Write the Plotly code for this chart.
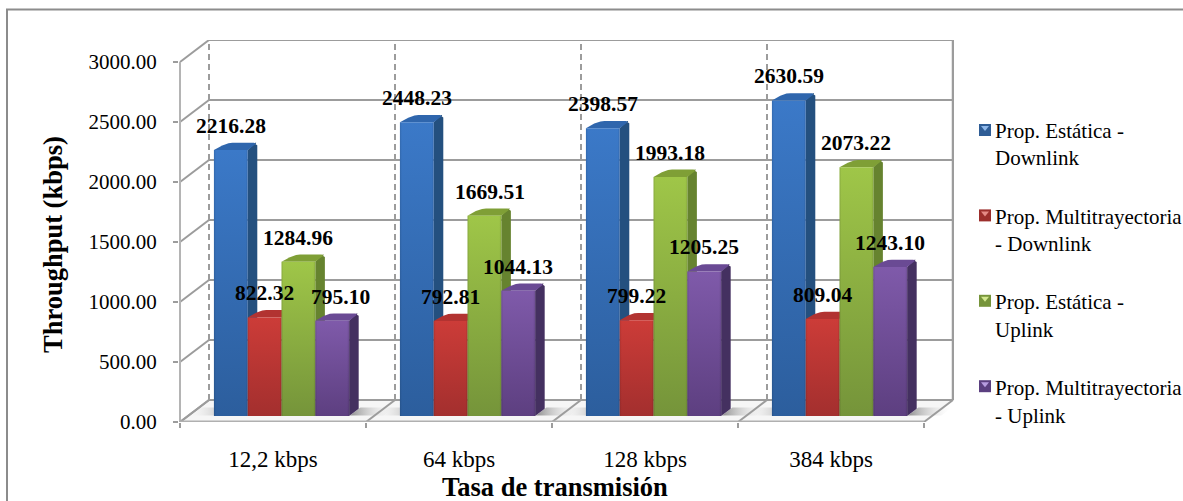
import plotly.graph_objects as go

# Throughput measurements (kbps) per transmission rate
rates = ["12,2 kbps", "64 kbps", "128 kbps", "384 kbps"]
static_down = [2216.28, 2448.23, 2398.57, 2630.59]
multipath_down = [822.32, 792.81, 799.22, 809.04]
static_up = [1284.96, 1669.51, 1993.18, 2073.22]
multipath_up = [795.10, 1044.13, 1205.25, 1243.10]
series_names = [
    " <br>Prop. Estática -<br>Downlink",
    " <br>Prop. Multitrayectoria<br>- Downlink",
    " <br>Prop. Estática -<br>Uplink",
    " <br>Prop. Multitrayectoria<br>- Uplink",
]
y_ticks = [0, 500, 1000, 1500, 2000, 2500, 3000]
label_nudge_px = [[0, 0, 0, 8], [0, 0, 6, 0], [0, 0, 0, 0], [0, 0, 0, 0]]

series_values = [static_down, multipath_down, static_up, multipath_up]

# Face colours: front bottom, front top, side, top
palette = [
    ("#2c5e9d", "#3b79c8", "#24507f", "#2f66ad"),
    ("#a32f2e", "#cc3c38", "#7c2524", "#b23331"),
    ("#75943a", "#9fc648", "#66832f", "#7f9f36"),
    ("#5d3f80", "#7f5aaa", "#443060", "#6a4a94"),
]
# Legend key colours: body and the lighter notch at its top
key_colors = [
    ("#2f5d96", "#8fb8ea"),
    ("#9c2e2c", "#e58a86"),
    ("#76943a", "#d3e88f"),
    ("#5b3f80", "#b79de0"),
]

# Page geometry in pixels
W, H = 1183, 501
LEFT, RIGHT, TOP, BOTTOM = 179, 954, 40, 422
PX_PER_GROUP = 186.0
PX_PER_UNIT = 0.12
DX = 29 / PX_PER_GROUP    # depth of the chart box along x, in category units
DY = 22 / PX_PER_UNIT     # depth of the chart box along y, in value units
X_RANGE = [-1 / PX_PER_GROUP, (RIGHT - 180) / PX_PER_GROUP]
Y_RANGE = [0, (BOTTOM - TOP) / PX_PER_UNIT]

BAR_OFFSET = 0.1403
BAR_WIDTH = 0.1817
BAR_D0, BAR_D1 = 0.27, 0.60
GRID = "#9c9c9c"


def project(x, v, d=0.0):
    """Oblique projection of (category position, value, depth) on the plot plane."""
    return x + d * DX, v + d * DY


def polygon(points):
    xs, ys = zip(*[project(*p) for p in points])
    return list(xs) + [xs[0]], list(ys) + [ys[0]]


def paper_x(px):
    return (px - LEFT) / (RIGHT - LEFT)


def paper_y(py):
    return (BOTTOM - py) / (BOTTOM - TOP)


fig = go.Figure()


def add_face(points, color=None, gradient=None):
    xs, ys = polygon(points)
    kw = {"fillgradient": gradient} if gradient else {"fillcolor": color}
    fig.add_trace(go.Scatter(x=xs, y=ys, mode="lines", fill="toself", line=dict(width=0),
                             showlegend=False, hoverinfo="skip", cliponaxis=False, **kw))


def add_line(points, width=2, dash="solid", color=GRID):
    xs, ys = zip(*[project(*p) for p in points])
    fig.add_trace(go.Scatter(x=xs, y=ys, mode="lines", line=dict(width=width, dash=dash, color=color),
                             showlegend=False, hoverinfo="skip", cliponaxis=False))


n_groups = len(rates)

# Floor
add_face([(0, 0, 0), (n_groups, 0, 0), (n_groups, 0, 1), (0, 0, 1)], color="#f6f6f6")

# Soft shadow the bar groups cast on the floor
for g in range(n_groups):
    span_end = g + BAR_OFFSET + 4 * BAR_WIDTH
    add_face(
        [(span_end, 0, 0.3), (span_end + 0.18, 0, 0.3), (span_end + 0.18, 0, 0.66), (span_end, 0, 0.66)],
        gradient=dict(type="horizontal", colorscale=[[0, "#8e8e8e"], [1, "rgba(246,246,246,0)"]]),
    )
    add_face(
        [(g + BAR_OFFSET - 0.14, 0, 0.3), (g + BAR_OFFSET, 0, 0.3), (g + BAR_OFFSET, 0, 0.66), (g + BAR_OFFSET - 0.14, 0, 0.66)],
        gradient=dict(type="horizontal", colorscale=[[0, "rgba(246,246,246,0)"], [1, "#b8b8b8"]]),
    )

# Back wall gridlines and left wall diagonals
for t in y_ticks:
    add_line([(0, t, 1), (n_groups, t, 1)])
    add_line([(0, t, 0), (0, t, 1)])

# Left wall front edge
add_line([(0, 0, 0), (0, y_ticks[-1], 0)], width=2, color="#b4b4b4")

# Dashed category dividers on the back wall
for g in range(n_groups):
    add_line([(g, 0, 1), (g, Y_RANGE[1] - DY, 1)], width=2, dash="6px,4px")
add_line([(n_groups, 0, 1), (n_groups, Y_RANGE[1] - DY, 1)], width=2.5)

# Floor edges
for g in range(n_groups + 1):
    add_line([(g, 0, 0), (g, 0, 1)], width=2)
add_line([(0, 0, 0), (n_groups, 0, 0)], width=3, color="#b0b0b0")

# Bars, painted left to right so each front face hides its neighbour's side
for g in range(n_groups):
    for s, values in enumerate(series_values):
        v = values[g]
        bottom, top_col, side_col, cap_col = palette[s]
        x0 = g + BAR_OFFSET + s * BAR_WIDTH
        x1 = x0 + BAR_WIDTH
        eps = 0.006
        add_face(
            [(x1, 0, BAR_D0), (x1, 0, BAR_D1), (x1, v - 20, BAR_D1), (x1, v, BAR_D1 - 0.06),
             (x1 - eps, v, BAR_D1), (x1 - 2 * eps, v, BAR_D1), (x1, v, BAR_D0)],
            color=side_col,
        )
        add_face(
            [(x0, v, BAR_D0), (x0 + 2 * eps, v, BAR_D1 - 0.12), (x0 + 5 * eps, v, BAR_D1 - 0.02),
             (x0 + 8 * eps, v, BAR_D1), (x1 - 3 * eps, v, BAR_D1), (x1 - eps, v, BAR_D1 - 0.03),
             (x1, v, BAR_D1 - 0.08), (x1, v, BAR_D0)],
            color=cap_col,
        )
        front = [(x0, 0, BAR_D0), (x1, 0, BAR_D0), (x1, v, BAR_D0), (x0, v, BAR_D0)]
        add_face(front, gradient=dict(type="vertical", colorscale=[[0, bottom], [1, top_col]]))
        add_face(front, gradient=dict(type="horizontal", colorscale=[
            [0, "rgba(0,0,0,0.12)"], [0.06, "rgba(0,0,0,0)"],
            [0.94, "rgba(0,0,0,0)"], [1, "rgba(0,0,0,0.12)"]]))

# Legend entries carry the text; the keys sit closer to it than the library's slot allows
for s, name in enumerate(series_names):
    fig.add_trace(go.Scatter(
        x=[None], y=[None], mode="markers", name=name, legendgroup=str(s),
        marker=dict(symbol="square", size=11, color="rgba(0,0,0,0)"),
    ))

key_shapes = []
for s, (body, notch) in enumerate(key_colors):
    cx, cy = 985, 130 + s * 85.4
    x_a, x_b, x_m = paper_x(cx - 6), paper_x(cx + 6), paper_x(cx)
    y_a, y_b = paper_y(cy - 6), paper_y(cy + 6)
    key_shapes.append(dict(type="rect", xref="paper", yref="paper", x0=x_a, x1=x_b, y0=y_a, y1=y_b,
                           fillcolor=body, line=dict(width=0), layer="above"))
    key_shapes.append(dict(type="path", xref="paper", yref="paper", layer="above",
                           path=f"M {paper_x(cx - 4)} {paper_y(cy - 4)} L {paper_x(cx + 4)} {paper_y(cy - 4)} "
                                f"L {x_m} {paper_y(cy + 1)} Z",
                           fillcolor=notch, line=dict(width=0)))

# Value labels above each bar
annotations = []
for g in range(n_groups):
    for s, values in enumerate(series_values):
        xc, yc = project(g + BAR_OFFSET + (s + 0.5) * BAR_WIDTH, values[g], BAR_D0)
        annotations.append(dict(
            x=xc, y=yc, xref="x", yref="y", text=f"{values[g]:.2f}", showarrow=False,
            yshift=24, xshift=label_nudge_px[g][s],
            font=dict(family="Liberation Serif", size=21.5, color="black", weight="bold"),
        ))

annotations.append(dict(x=paper_x(555), y=paper_y(487), xref="paper", yref="paper",
                        xanchor="center", yanchor="middle",
                        text="Tasa de transmisión", showarrow=False,
                        font=dict(family="Liberation Serif", size=26.5, color="black", weight="bold")))
annotations.append(dict(x=paper_x(53), y=paper_y(245), xref="paper", yref="paper",
                        xanchor="center", yanchor="middle",
                        text="Throughput (kbps)", showarrow=False, textangle=-90,
                        font=dict(family="Liberation Serif", size=26.5, color="black", weight="bold")))

frame = dict(type="rect", xref="paper", yref="paper",
             x0=paper_x(7), x1=paper_x(1300), y0=paper_y(9.5), y1=paper_y(600),
             line=dict(color="#8c8c8c", width=2), layer="below")

fig.update_layout(
    width=W, height=H, autosize=False,
    margin=dict(l=LEFT, r=W - RIGHT, t=TOP, b=H - BOTTOM, autoexpand=False),
    paper_bgcolor="white", plot_bgcolor="white",
    font=dict(family="Liberation Serif", size=20, color="black"),
    xaxis=dict(
        range=X_RANGE, showgrid=False, zeroline=False, showline=False,
        tickmode="array", tickvals=[g + 0.5 for g in range(n_groups)], ticktext=rates,
        ticks="outside", ticklen=0, ticklabelstandoff=16,
        tickfont=dict(family="Liberation Serif", size=23, color="black"),
        minor=dict(tickmode="array", tickvals=list(range(n_groups + 1)), ticks="outside",
                   ticklen=5, tickwidth=2, tickcolor=GRID, showgrid=False),
    ),
    yaxis=dict(
        range=Y_RANGE, showgrid=False, zeroline=False, showline=False,
        tickmode="array", tickvals=y_ticks, ticktext=[f"{t:.2f}" for t in y_ticks],
        ticks="outside", ticklen=5, tickwidth=2, tickcolor=GRID, ticklabelstandoff=12,
        tickfont=dict(family="Liberation Serif", size=21, color="black"),
    ),
    legend=dict(x=paper_x(970), y=paper_y(82), xanchor="left", yanchor="top",
                tracegroupgap=1, indentation=-15, bgcolor="rgba(0,0,0,0)",
                font=dict(family="Liberation Serif", size=21, color="black")),
    annotations=annotations,
    shapes=[frame] + key_shapes,
)

fig.write_html("out.html")
